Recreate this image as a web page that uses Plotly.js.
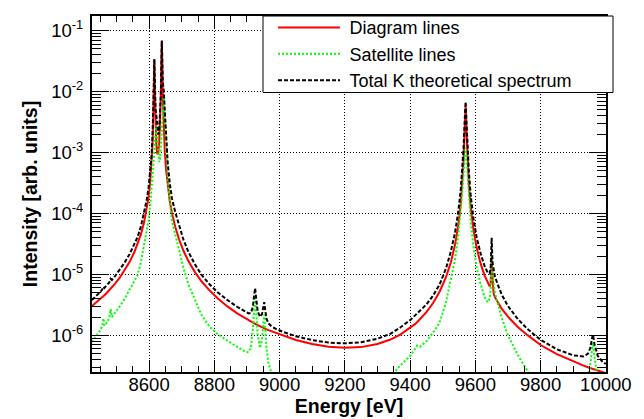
<!DOCTYPE html>
<html>
<head>
<meta charset="utf-8">
<script src="https://cdn.plot.ly/plotly-3.0.1.min.js"></script>
<style>html,body{margin:0;padding:0;background:#fff}#chart{width:644px;height:419px}</style>
</head>
<body>
<div id="chart"></div>
<script>
// Energy grid [eV]
const energy = [8425,8440,8452,8457,8460,8463,8470,8478,8482,8486,8495,8510,8525,8540,8555,8565,8575,8585,8592,8598,
8603,8607,8610,8612,8614,8616,8618,8620,8622,8625,8628,8631,8634,8636,8638,8639,8640,8642,8645,8648,
8652,8657,8663,8670,8680,8692,8705,8720,8740,8760,8785,8810,8840,8870,8895,8905,8912,8918,8922,8925,
8928,8933,8940,8946,8950,8953,8956,8960,8966,8975,8990,9010,9050,9100,9150,9200,9250,9300,9340,9370,
9400,9415,9422,9430,9450,9470,9490,9510,9525,9538,9548,9555,9560,9564,9567,9569,9570,9571,9573,9576,
9580,9586,9594,9604,9616,9628,9638,9644,9647,9649,9650,9651,9653,9656,9660,9668,9680,9700,9730,9760,
9800,9850,9900,9930,9945,9952,9956,9958,9960,9962,9965,9975,9990,10000];

// Diagram lines (red)
const diagram = [3.03e-6,3.52e-6,4.01e-6,4.25e-6,4.40e-6,4.56e-6,4.97e-6,5.50e-6,5.81e-6,6.13e-6,6.99e-6,8.86e-6,1.163e-5,1.596e-5,2.335e-5,3.17e-5,4.58e-5,7.29e-5,1.114e-4,1.801e-4,
3.132e-4,5.958e-4,1.233e-3,2.56e-3,8.13e-3,3.316e-2,8.19e-3,2.677e-3,1.424e-3,9.42e-4,9.81e-4,1.481e-3,3.345e-3,8.32e-3,3.714e-2,6.608e-2,3.712e-2,8.28e-3,2.316e-3,1.068e-3,
5.29e-4,2.85e-4,1.654e-4,1.023e-4,6.05e-5,3.74e-5,2.472e-5,1.678e-5,1.103e-5,7.81e-6,5.49e-6,4.07e-6,2.99e-6,2.30e-6,1.90e-6,1.77e-6,1.69e-6,1.62e-6,1.58e-6,1.55e-6,
1.52e-6,1.48e-6,1.41e-6,1.37e-6,1.33e-6,1.31e-6,1.29e-6,1.26e-6,1.22e-6,1.17e-6,1.08e-6,9.88e-7,8.42e-7,7.22e-7,6.53e-7,6.26e-7,6.43e-7,7.22e-7,8.56e-7,1.03e-6,
1.32e-6,1.53e-6,1.66e-6,1.83e-6,2.41e-6,3.37e-6,5.16e-6,9.02e-6,1.59e-5,3.12e-5,6.53e-5,1.386e-4,3.02e-4,7.66e-4,2.171e-3,4.764e-3,5.6e-3,4.764e-3,2.171e-3,7.66e-4,
3.02e-4,1.22e-4,5.50e-5,2.76e-5,1.52e-5,9.65e-6,7.15e-6,6.38e-6,7.03e-6,1.28e-5,2.01e-5,1.25e-5,6.28e-6,4.87e-6,4.24e-6,3.52e-6,2.78e-6,2.03e-6,1.38e-6,1.01e-6,
6.96e-7,4.92e-7,3.72e-7,3.22e-7,3.0e-7,2.92e-7,2.87e-7,2.84e-7,2.82e-7,2.80e-7,2.76e-7,2.65e-7,2.49e-7,2.40e-7];

// Satellite lines (green)
const satellite = [7.8e-7,1.0e-6,1.25e-6,1.5e-6,1.9e-6,1.45e-6,1.6e-6,1.9e-6,2.7e-6,2.0e-6,2.3e-6,3.0e-6,4.0e-6,5.5e-6,7.5e-6,9.8e-6,1.6e-5,3.0e-5,4.8e-5,7.5e-5,
1.3e-4,2.2e-4,3.5e-4,5.0e-4,7.5e-4,1.1e-3,1.6e-3,2.3e-3,2.8e-3,1.8e-3,1.0e-3,7.0e-4,8.0e-4,1.2e-3,2.2e-3,2.8e-3,3.6e-3,6.0e-3,8.0e-3,4.0e-3,
1.2e-3,4.0e-4,1.6e-4,7.5e-5,4.6e-5,2.4e-5,1.3e-5,7.0e-6,3.8e-6,2.2e-6,1.4e-6,1.05e-6,8.2e-7,6.5e-7,5.4e-7,5.3e-7,6.5e-7,1.3e-6,3.0e-6,4.4e-6,
2.6e-6,1.0e-6,6.2e-7,8.5e-7,1.6e-6,2.2e-6,1.3e-6,6.0e-7,3.5e-7,2.4e-7,1.9e-7,1.6e-7,1.3e-7,1.15e-7,1.1e-7,1.15e-7,1.3e-7,1.6e-7,2.1e-7,3.2e-7,
4.6e-7,6.0e-7,6.8e-7,6.5e-7,8.0e-7,1.1e-6,1.6e-6,3.5e-6,8.0e-6,1.8e-5,4.5e-5,1.0e-4,2.2e-4,4.5e-4,8.0e-4,1.1e-3,1.2e-3,1.15e-3,9.0e-4,4.5e-4,
2.0e-4,7.0e-5,3.0e-5,1.3e-5,7.0e-6,4.3e-6,3.5e-6,4.0e-6,6.0e-6,1.3e-5,2.0e-5,1.5e-5,9.0e-6,6.5e-6,5.0e-6,3.5e-6,2.0e-6,1.0e-6,4.8e-7,2.6e-7,
1.5e-7,1.0e-7,1.0e-7,1.3e-7,2.0e-7,3.2e-7,5.0e-7,6.5e-7,7.5e-7,6.5e-7,4.5e-7,2.0e-7,1.2e-7,1.0e-7];

// Total K theoretical spectrum (black dashed)
const total = [3.81e-6,4.52e-6,5.26e-6,5.75e-6,6.30e-6,6.01e-6,6.57e-6,7.40e-6,8.51e-6,8.13e-6,9.29e-6,1.186e-5,1.563e-5,2.146e-5,3.085e-5,4.15e-5,6.18e-5,1.029e-4,1.594e-4,2.551e-4,
4.432e-4,8.158e-4,1.583e-3,3.06e-3,8.88e-3,3.426e-2,9.79e-3,4.98e-3,4.22e-3,2.74e-3,1.98e-3,2.18e-3,4.15e-3,9.52e-3,3.934e-2,6.888e-2,4.07e-2,1.428e-2,1.032e-2,5.07e-3,
1.73e-3,6.85e-4,3.25e-4,1.77e-4,1.065e-4,6.14e-5,3.77e-5,2.38e-5,1.483e-5,1.001e-5,6.89e-6,5.12e-6,3.81e-6,2.95e-6,2.44e-6,2.30e-6,2.34e-6,2.92e-6,4.58e-6,5.95e-6,
4.12e-6,2.48e-6,2.03e-6,2.22e-6,2.93e-6,3.51e-6,2.59e-6,1.86e-6,1.57e-6,1.41e-6,1.27e-6,1.148e-6,9.72e-7,8.37e-7,7.63e-7,7.41e-7,7.73e-7,8.82e-7,1.066e-6,1.35e-6,
1.78e-6,2.13e-6,2.34e-6,2.48e-6,3.21e-6,4.47e-6,6.76e-6,1.252e-5,2.39e-5,4.92e-5,1.103e-4,2.386e-4,5.22e-4,1.216e-3,2.971e-3,5.864e-3,6.8e-3,5.914e-3,3.071e-3,1.216e-3,
5.02e-4,1.92e-4,8.5e-5,4.06e-5,2.22e-5,1.395e-5,1.065e-5,1.04e-5,1.30e-5,2.58e-5,4.01e-5,2.75e-5,1.53e-5,1.14e-5,9.24e-6,7.02e-6,4.78e-6,3.03e-6,1.86e-6,1.27e-6,
8.46e-7,5.92e-7,4.72e-7,4.52e-7,5.0e-7,6.12e-7,7.87e-7,9.34e-7,1.032e-6,9.3e-7,7.26e-7,4.65e-7,3.69e-7,3.40e-7];

const seriesNames = ['Diagram lines', 'Satellite lines', 'Total K theoretical spectrum'];
const yTickValues = [1e-6, 1e-5, 1e-4, 1e-3, 1e-2, 1e-1];
const yTickText = ['10<sup>-6</sup>', '10<sup>-5</sup>', '10<sup>-4</sup>', '10<sup>-3</sup>', '10<sup>-2</sup>', '10<sup>-1</sup>'];
const xTitle = 'Energy [eV]';
const yTitle = 'Intensity [arb. units]';

const FONT = 'Liberation Sans, Arial, Helvetica, sans-serif';
const legendName = s => '\u2005' + s;

const traces = [
  {x: energy, y: diagram, name: legendName(seriesNames[0]), type: 'scatter', mode: 'lines',
   line: {color: '#ff0000', width: 2}, legendgroup: 'a'},
  {x: energy, y: satellite, name: legendName(seriesNames[1]), type: 'scatter', mode: 'lines',
   line: {color: '#00ff00', width: 2, dash: '2px,2px'}, legendgroup: 'b'},
  {x: energy, y: total, name: legendName(seriesNames[2]), type: 'scatter', mode: 'lines',
   line: {color: '#000000', width: 2, dash: '4px,2px'}, legendgroup: 'c'}
];

const layout = {
  width: 644, height: 419,
  margin: {l: 92, r: 38, t: 9, b: 47, pad: 0},
  paper_bgcolor: '#ffffff', plot_bgcolor: '#ffffff',
  font: {family: FONT, size: 18.5, color: '#000'},
  showlegend: true,
  legend: {
    x: (273 - 92) / 514, y: 1.019, xanchor: 'left', yanchor: 'top',
    bgcolor: 'rgba(0,0,0,0)', borderwidth: 0,
    font: {family: FONT, size: 18, color: '#000'},
    itemwidth: 62, tracegroupgap: 0, traceorder: 'normal'
  },
  shapes: [
    {type: 'rect', xref: 'paper', yref: 'paper', layer: 'above',
     x0: (263 - 92) / 514, x1: (613 - 92) / 514, y0: (372 - 87) / 363, y1: 1,
     fillcolor: '#ffffff', line: {color: '#000000', width: 1}}
  ],
  xaxis: {
    range: [8425, 10000.5], tick0: 0, dtick: 200, tickformat: 'd',
    ticks: 'inside', ticklen: 12, tickwidth: 1, tickcolor: '#000',
    minor: {ticks: 'inside', ticklen: 6, tick0: 0, dtick: 50, tickwidth: 1, tickcolor: '#000', showgrid: false},
    showline: true, linewidth: 2, linecolor: '#000', mirror: 'allticks',
    showgrid: true, gridcolor: '#000', gridwidth: 1, griddash: '1px,2px',
    zeroline: false, automargin: false,
    tickfont: {family: FONT, size: 18.5, color: '#000'},
    ticklabelstandoff: -5,
    title: {text: '<b>' + xTitle + '</b>', font: {family: FONT, size: 19.5, color: '#000'}, standoff: 0}
  },
  yaxis: {
    type: 'log', range: [-6.6, -0.76], tickmode: 'array', tickvals: yTickValues, ticktext: yTickText,
    ticks: 'inside', ticklen: 17, tickwidth: 1, tickcolor: '#000',
    minor: {ticks: 'inside', ticklen: 9, dtick: 'D1', tickwidth: 1, tickcolor: '#000', showgrid: false},
    showline: true, linewidth: 2, linecolor: '#000', mirror: 'allticks',
    showgrid: true, gridcolor: '#000', gridwidth: 1, griddash: '1px,2px',
    zeroline: false, automargin: false,
    tickfont: {family: FONT, size: 18.5, color: '#000'},
    ticklabelstandoff: 3,
    title: {text: '<b>' + yTitle + '</b>', font: {family: FONT, size: 19.5, color: '#000'}, standoff: 8}
  }
};

Plotly.newPlot('chart', traces, layout, {displayModeBar: false, staticPlot: true});
</script>
</body>
</html>
